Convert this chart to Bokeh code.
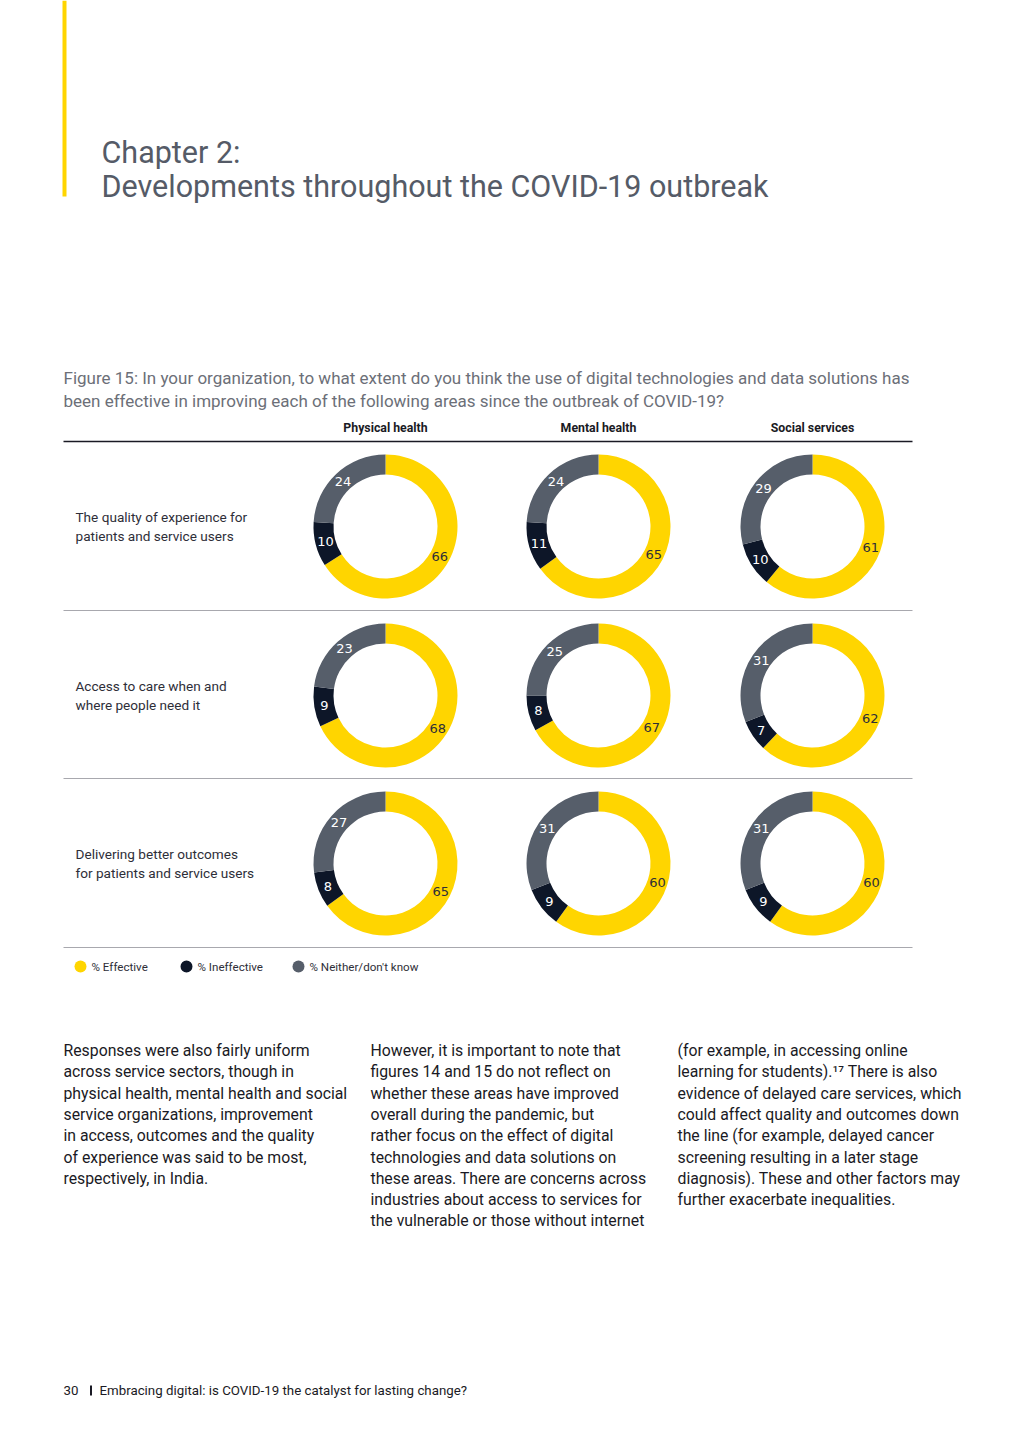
import math
from bokeh.plotting import figure
from bokeh.models import Range1d, ColumnDataSource
from bokeh.core.properties import value
from bokeh.embed import file_html
from bokeh.resources import INLINE

# ---------------- data ----------------
sectors = ["Physical health", "Mental health", "Social services"]
areas = [["The quality of experience for", "patients and service users"],
         ["Access to care when and", "where people need it"],
         ["Delivering better outcomes", "for patients and service users"]]
series = ["% Effective", "% Ineffective", "% Neither/don't know"]
effective = [[66, 65, 61], [68, 67, 62], [65, 60, 60]]
ineffective = [[10, 11, 10], [9, 8, 7], [8, 9, 9]]
neither = [[24, 24, 29], [23, 25, 31], [27, 31, 31]]

title_lines = ["Chapter 2:", "Developments throughout the COVID-19 outbreak"]
caption_lines = ["Figure 15: In your organization, to what extent do you think the use of digital technologies and data solutions has",
                 "been effective in improving each of the following areas since the outbreak of COVID-19?"]
body_cols = [
    ["Responses were also fairly uniform",
     "across service sectors, though in",
     "physical health, mental health and social",
     "service organizations, improvement",
     "in access, outcomes and the quality",
     "of experience was said to be most,",
     "respectively, in India."],
    ["However, it is important to note that",
     "figures 14 and 15 do not reflect on",
     "whether these areas have improved",
     "overall during the pandemic, but",
     "rather focus on the effect of digital",
     "technologies and data solutions on",
     "these areas. There are concerns across",
     "industries about access to services for",
     "the vulnerable or those without internet"],
    ["(for example, in accessing online",
     "learning for students).\u00b9\u2077 There is also",
     "evidence of delayed care services, which",
     "could affect quality and outcomes down",
     "the line (for example, delayed cancer",
     "screening resulting in a later stage",
     "diagnosis). These and other factors may",
     "further exacerbate inequalities."],
]
footer_page = "30"
footer_text = "Embracing digital: is COVID-19 the catalyst for lasting change?"

# ---------------- style ----------------
YELLOW = "#FFD500"
DARK = "#0d1628"
GREY = "#565e6a"
colors = [YELLOW, DARK, GREY]
label_colors = ["#2e2e38", "#ffffff", "#ffffff"]

W, H = 1008, 1432


def Y(sy):
    return 1440 - sy


p = figure(width=W, height=H, x_range=Range1d(0, W), y_range=Range1d(8, 8 + H),
           output_backend="svg", toolbar_location=None, min_border=0,
           x_axis_location=None, y_axis_location=None)
p.grid.visible = False
p.outline_line_color = None
p.background_fill_color = "white"
p.border_fill_color = "white"

# yellow bar
p.quad(left=[62], right=[66], bottom=[Y(196)], top=[Y(0)], fill_color=YELLOW, line_color=None)

# title
p.text(x=[101, 101], y=[Y(152), Y(186)], text=title_lines, text_font=value("Roboto"),
       text_font_size="30.5px", text_color="#555b67", text_baseline="middle")

# caption
p.text(x=[63, 63], y=[Y(377), Y(400)], text=caption_lines, text_font=value("Roboto"),
       text_font_size="17px", text_color="#6c6f78", text_baseline="middle")

col_x = [385, 598, 812]
row_y = [526, 695, 863]

# headers
p.text(x=col_x, y=[Y(427)] * 3, text=sectors, text_font=value("Roboto"), text_font_style="bold",
       text_font_size="12.3px", text_color="#1a1a24", text_baseline="middle", text_align="center")
p.segment(x0=[63], y0=[Y(441)], x1=[912], y1=[Y(441)], line_color="#1a1a24", line_width=1.5)
p.segment(x0=[63] * 3, y0=[Y(610), Y(778), Y(947)], x1=[912] * 3, y1=[Y(610), Y(778), Y(947)],
          line_color="#a8a8ae", line_width=1)

# row labels
for r, lines in enumerate(areas):
    cy = row_y[r]
    p.text(x=[75, 75], y=[Y(cy - 9.5), Y(cy + 9.5)], text=lines, text_font=value("Roboto"),
           text_font_size="13.6px", text_color="#2e2e38", text_baseline="middle")

# donuts
R_OUT, R_IN = 72, 52
R_LAB = 62
for r in range(3):
    for c in range(3):
        vals = [effective[r][c], ineffective[r][c], neither[r][c]]
        total = float(sum(vals))
        cx, cy = col_x[c], Y(row_y[r])
        starts, ends, lx, ly, lt = [], [], [], [], []
        acc = 0.0
        for v in vals:
            t1 = acc / total * 2 * math.pi
            t2 = (acc + v) / total * 2 * math.pi
            acc += v
            starts.append(math.pi / 2 - t2)
            ends.append(math.pi / 2 - t1)
            tm = (t1 + t2) / 2
            lx.append(cx + R_LAB * math.sin(tm))
            ly.append(cy + R_LAB * math.cos(tm))
            lt.append(str(v))
        src = ColumnDataSource(dict(x=[cx] * 3, y=[cy] * 3, s=starts, e=ends, c=colors))
        p.annular_wedge(x="x", y="y", inner_radius=R_IN, outer_radius=R_OUT,
                        start_angle="s", end_angle="e", fill_color="c", line_color=None, source=src)
        p.text(x=lx, y=ly, text=lt, text_color=label_colors, text_font=value("DejaVu Sans"),
               text_font_size="13px", text_align="center", text_baseline="middle")

# legend
leg_x = [80, 186, 298]
p.scatter(x=leg_x, y=[Y(966)] * 3, size=12, marker="circle", fill_color=colors, line_color=None)
p.text(x=[x + 11 for x in leg_x], y=[Y(966)] * 3, text=series, text_font=value("Roboto"),
       text_font_size="11.6px", text_color="#2e2e38", text_baseline="middle")

# body text
body_x = [63, 370, 677]
for i, lines in enumerate(body_cols):
    ys = [Y(1050 + 21.3 * k) for k in range(len(lines))]
    p.text(x=[body_x[i]] * len(lines), y=ys, text=lines, text_font=value("Roboto"),
           text_font_size="15.8px", text_color="#1a1a24", text_baseline="middle")

# footer
p.text(x=[63], y=[Y(1390)], text=[footer_page], text_font=value("Roboto"), text_font_size="13.3px",
       text_color="#1a1a24", text_baseline="middle")
p.quad(left=[89.5], right=[91.5], bottom=[Y(1395)], top=[Y(1385)], fill_color="#1a1a24", line_color=None)
p.text(x=[99], y=[Y(1390)], text=[footer_text], text_font=value("Roboto"), text_font_size="13.3px",
       text_color="#1a1a24", text_baseline="middle")

open("out.html", "w").write(file_html(p, INLINE))
